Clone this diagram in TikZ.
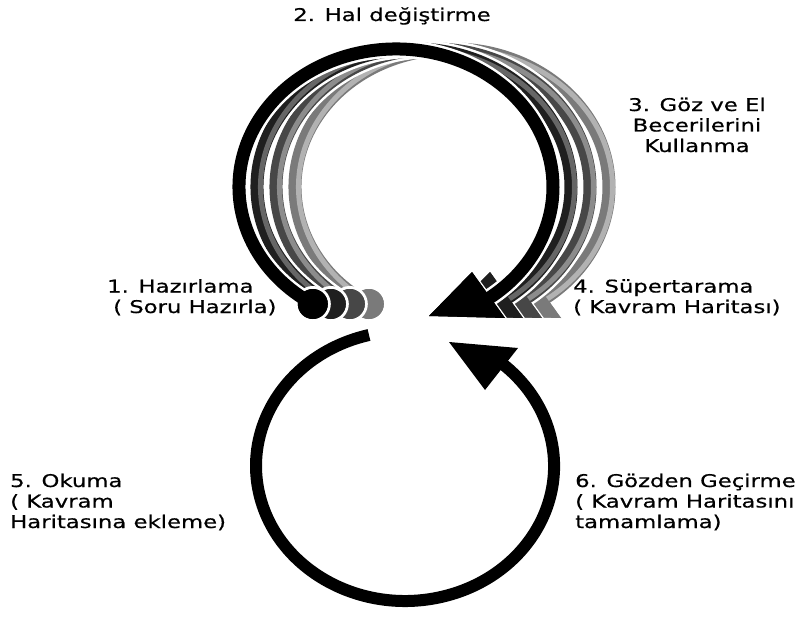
\documentclass[tikz,border=0pt]{standalone}
\usepackage{fontspec}
\setmainfont{DejaVu Sans}[FakeStretch=1.3,FakeBold=0.6]
\begin{document}
\begin{tikzpicture}[x=1pt,y=-1pt,
  lbl/.style={font=\fontsize{17.5}{20.5}\selectfont, inner sep=0pt, align=left, anchor=base west},
  lblc/.style={font=\fontsize{17.5}{20.5}\selectfont, inner sep=0pt, align=center, anchor=base},
  toploop/.style={insert path={(312.8,304.0) arc[start angle=122,end angle=415,x radius=157,y radius=138]}},
  toparrow/.style={insert path={(429,316) -- (472,272) -- (505,318) -- cycle}},
  ring/.style={line width=13pt},
  halo/.style={line width=18pt, white},
]
\useasboundingbox (0,0) rectangle (801,618);

% top loop with its shifted copies (back to front)
\foreach \s/\c/\l in {56/black!52/black!30, 37/black!72/black!45, 18/black!88/black!60, 0/black/black} {
  \begin{scope}[shift={(\s,0)}]
    \draw[halo, toploop];
    \fill[white] (312.8,304.0) circle[radius=18];
    \draw[white, line width=3pt, fill=white, toparrow];
    \draw[ring, \c, toploop];
    \fill[\c] (312.8,304.0) circle[radius=15];
    \fill[\c, toparrow];
  \end{scope}
  \begin{scope}[shift={(\s+3.5,0)}]
    \draw[line width=5pt, \l, toploop];
  \end{scope}
  \begin{scope}[shift={(\s,0)}]
    \fill[\c] (312.8,304.0) circle[radius=15];
    \fill[\c, toparrow];
  \end{scope}
}

% bottom loop
\coordinate (bstart) at (369,335);
\draw[line width=12pt] (bstart) arc[start angle=256, end angle=-50, x radius=149, y radius=135];
\fill (449,342) -- (518,348) -- (485,390) -- cycle;

% labels (base anchor = baseline of the last line)
\node[lblc] (l2) at (392,21) {2. Hal değiştirme};
\node[lblc] (l3) at (697,152) {3. Göz ve El\\Becerilerini\\Kullanma};
\node[lbl] (l1) at (107,313) {1. Hazırlama\\\hspace*{6pt}( Soru Hazırla)};
\node[lbl] (l4) at (573,313) {4. Süpertarama\\( Kavram Haritası)};
\node[lbl] (l5) at (10,528) {5. Okuma\\( Kavram\\Haritasına ekleme)};
\node[lbl] (l6) at (575,528) {6. Gözden Geçirme\\( Kavram Haritasını\\tamamlama)};
\end{tikzpicture}
\end{document}
